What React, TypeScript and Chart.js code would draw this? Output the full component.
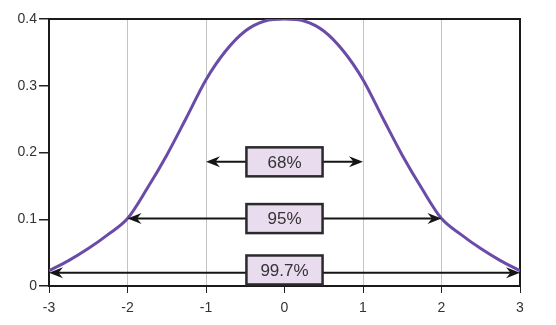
import React, { useEffect, useRef } from "react";
import { Chart, registerables } from "chart.js";

Chart.register(...registerables);

const curveX = [-3, -2.75, -2.5, -2.25, -2, -1.75, -1.5, -1.25, -1, -0.75, -0.5, -0.25, 0, 0.25, 0.5, 0.75, 1, 1.25, 1.5, 1.75, 2, 2.25, 2.5, 2.75, 3];
const curveY = [0.023, 0.038, 0.056, 0.077, 0.101, 0.146, 0.196, 0.252, 0.309, 0.352, 0.382, 0.397, 0.4, 0.397, 0.382, 0.352, 0.309, 0.252, 0.196, 0.146, 0.101, 0.077, 0.056, 0.038, 0.023];

const xTickLabels = ["-3", "-2", "-1", "0", "1", "2", "3"];
const yTickLabels = ["0", "0.1", "0.2", "0.3", "0.4"];

const rangeLabels = ["68%", "95%", "99.7%"];
const rangeFrom = [-1, -2, -3];
const rangeTo = [1, 2, 3];
const rangeY = [0.186, 0.101, 0.02];
const boxY = [0.186, 0.101, 0.024];

const FONT = "'Liberation Sans', Arial, Helvetica, sans-serif";

const framePlugin = {
  id: "frame",
  beforeDatasetsDraw(chart: any) {
    const { ctx, chartArea: a } = chart;
    ctx.save();
    ctx.strokeStyle = "#1a1a1a";
    ctx.lineWidth = 2;
    ctx.strokeRect(a.left, a.top, a.right - a.left, a.bottom - a.top);
    ctx.restore();
  },
};

function drawHead(ctx: CanvasRenderingContext2D, x: number, y: number, dir: number) {
  const L = 14;
  const W = 5.5;
  ctx.beginPath();
  ctx.moveTo(x, y);
  ctx.lineTo(x + dir * L, y - W);
  ctx.lineTo(x + dir * L * 0.68, y);
  ctx.lineTo(x + dir * L, y + W);
  ctx.closePath();
  ctx.fill();
}

const arrowPlugin = {
  id: "arrows",
  afterDatasetsDraw(chart: any) {
    const { ctx } = chart;
    const xs = chart.scales.x;
    const ys = chart.scales.y;
    ctx.save();
    for (let i = 0; i < rangeLabels.length; i++) {
      const x1 = xs.getPixelForValue(rangeFrom[i]);
      const x2 = xs.getPixelForValue(rangeTo[i]);
      const y = ys.getPixelForValue(rangeY[i]);
      ctx.strokeStyle = "#151515";
      ctx.fillStyle = "#151515";
      ctx.lineWidth = 2;
      ctx.beginPath();
      ctx.moveTo(x1 + 8, y);
      ctx.lineTo(x2 - 8, y);
      ctx.stroke();
      drawHead(ctx, x1, y, 1);
      drawHead(ctx, x2, y, -1);

      const cx = xs.getPixelForValue(0);
      const bw = xs.getPixelForValue(0.485) - xs.getPixelForValue(-0.485);
      const bh = 29;
      const by = ys.getPixelForValue(boxY[i]);
      ctx.fillStyle = "#eadcef";
      ctx.fillRect(cx - bw / 2, by - bh / 2, bw, bh);
      ctx.strokeStyle = "#2a2a2a";
      ctx.lineWidth = 2.5;
      ctx.strokeRect(cx - bw / 2, by - bh / 2, bw, bh);
      ctx.fillStyle = "#333";
      ctx.font = `17px ${FONT}`;
      ctx.textAlign = "center";
      ctx.textBaseline = "middle";
      ctx.fillText(rangeLabels[i], cx, by + 1);
    }
    ctx.restore();
  },
};

export default function App() {
  const ref = useRef<HTMLCanvasElement>(null);

  useEffect(() => {
    if (!ref.current) return;
    const chart = new Chart(ref.current, {
      type: "line",
      data: {
        datasets: [
          {
            data: curveX.map((x, i) => ({ x, y: curveY[i] })),
            borderColor: "#6a4ba8",
            borderWidth: 3,
            pointRadius: 0,
            fill: false,
            cubicInterpolationMode: "monotone",
          } as any,
        ],
      },
      options: {
        responsive: false,
        animation: false,
        events: [],
        layout: { padding: { top: 19, right: 36, left: 0, bottom: 0 } },
        plugins: { legend: { display: false }, tooltip: { enabled: false } },
        scales: {
          x: {
            type: "linear",
            min: -3,
            max: 3,
            afterFit: (s: any) => {
              s.height = 39;
            },
            afterBuildTicks: (s: any) => {
              s.ticks = xTickLabels.map((_, i) => ({ value: i - 3 }));
            },
            ticks: {
              stepSize: 1,
              color: "#333",
              font: { family: FONT, size: 14 },
              padding: 7,
              maxRotation: 0,
              callback: (_v: any, i: number) => xTickLabels[i],
            },
            grid: {
              drawOnChartArea: true,
              color: (c: any) => {
                const v = c.tick ? c.tick.value : 0;
                return v === 0 || v === -3 || v === 3 ? "rgba(0,0,0,0)" : "#c4c4c4";
              },
              lineWidth: 1,
              tickColor: "#222",
              tickLength: 7,
            },
            border: { display: false },
          },
          y: {
            min: 0,
            max: 0.4,
            afterFit: (s: any) => {
              s.width = 49;
            },
            afterBuildTicks: (s: any) => {
              s.ticks = yTickLabels.map((_, i) => ({ value: i * 0.1 }));
            },
            ticks: {
              color: "#333",
              font: { family: FONT, size: 14 },
              padding: 2,
              callback: (_v: any, i: number) => yTickLabels[i],
            },
            grid: {
              drawOnChartArea: false,
              tickColor: "#222",
              tickLength: 10,
              lineWidth: 1.5,
            },
            border: { display: false },
          },
        },
      } as any,
      plugins: [framePlugin, arrowPlugin],
    });
    return () => chart.destroy();
  }, []);

  return (
    <div style={{ position: "absolute", left: 0, top: 0, width: 556, height: 325, background: "#fff" }}>
      <canvas ref={ref} width={556} height={325} style={{ display: "block" }} />
    </div>
  );
}
